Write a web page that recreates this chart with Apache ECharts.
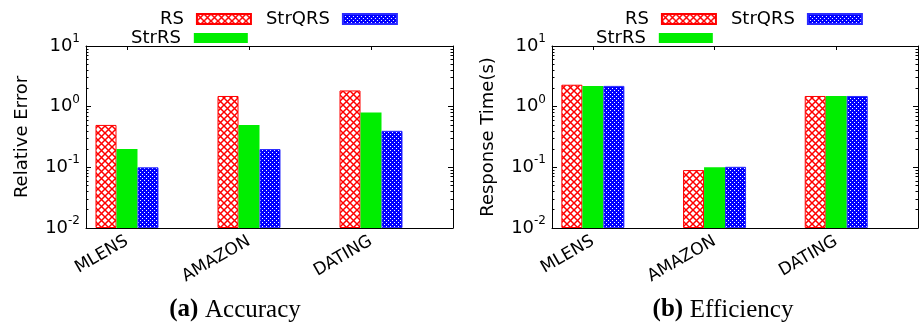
<!DOCTYPE html>
<html>
<head>
<meta charset="utf-8">
<script src="https://cdn.jsdelivr.net/npm/echarts@6/dist/echarts.min.js"></script>
<style>
  html, body { margin: 0; padding: 0; background: #fff; }
  #chart { width: 920px; height: 332px; }
</style>
</head>
<body>
<div id="chart"></div>
<script>
// data
const categories = ["MLENS", "AMAZON", "DATING"];
const seriesNames = ["RS", "StrRS", "StrQRS"];
// (a) relative error
const errRS = [0.5, 1.5, 1.85];
const errStrRS = [0.2, 0.5, 0.8];
const errStrQRS = [0.1, 0.2, 0.4];
// (b) response time in seconds
const timeRS = [2.3, 0.09, 1.5];
const timeStrRS = [2.2, 0.1, 1.5];
const timeStrQRS = [2.2, 0.102, 1.5];
// log axis ticks
const yTicks = [0.01, 0.1, 1, 10];

const FONT = "DejaVu Sans";
const LOG_MIN = 0.01;
// bars on an ECharts log axis grow from 1, so plot decades above the axis bottom
// on a value axis instead: 0 = 10^-2, 3 = 10^1
const toAxis = (v) => Math.log10(v / LOG_MIN);
const xTickPos = categories.map((c, i) => i);
const majorPos = yTicks.map(toAxis);
const minorPos = [];
yTicks.slice(0, -1).forEach((d) => {
  for (let k = 2; k <= 9; k++) minorPos.push(toAxis(d * k));
});

// fill patterns, gnuplot style
function hatchPattern() {
  const c = document.createElement("canvas");
  c.width = c.height = 7;
  const g = c.getContext("2d");
  g.fillStyle = "#fff";
  g.fillRect(0, 0, 7, 7);
  g.strokeStyle = "#ff0000";
  g.lineWidth = 1.5;
  g.beginPath();
  g.moveTo(0, 0); g.lineTo(7, 7);
  g.moveTo(7, 0); g.lineTo(0, 7);
  g.stroke();
  return c;
}
function dotPattern() {
  const c = document.createElement("canvas");
  c.width = c.height = 4;
  const g = c.getContext("2d");
  g.fillStyle = "#0000ff";
  g.fillRect(0, 0, 4, 4);
  g.fillStyle = "#fff";
  g.fillRect(0, 0, 1, 1);
  g.fillRect(2, 2, 1, 1);
  return c;
}

const barStyles = [
  { color: { image: hatchPattern(), repeat: "repeat" }, borderColor: "#ff0000", borderWidth: 1 },
  { color: "#00ee00", borderWidth: 0 },
  { color: { image: dotPattern(), repeat: "repeat" }, borderColor: "#2a2aff", borderWidth: 1 },
];

const grids = [
  { left: 86, top: 46, width: 367, height: 182 },
  { left: 552, top: 46, width: 366, height: 182 },
];
const yNames = ["Relative Error", "Response Time(s)"];
const panelData = [
  [errRS, errStrRS, errStrQRS],
  [timeRS, timeStrRS, timeStrQRS],
];

const black = { color: "#000", width: 1 };

function logLabel(v) {
  const e = Math.round(v + Math.log10(LOG_MIN));
  return "{b|10}{s|" + e + "}";
}

const xAxis = [];
const yAxis = [];
const series = [];
grids.forEach((gr, g) => {
  ["bottom", "top"].forEach((pos) => {
    xAxis.push({
      type: "value",
      gridIndex: g,
      position: pos,
      min: -0.336,
      max: 2.672,
      splitLine: { show: false },
      axisLine: { show: true, onZero: false, lineStyle: black },
      axisTick: { inside: true, length: 4, customValues: xTickPos, lineStyle: black },
      axisLabel: pos === "bottom"
        ? {
            customValues: xTickPos,
            formatter: (v) => categories[Math.round(v)],
            rotate: 30,
            margin: 12,
            fontSize: 17,
            fontFamily: FONT,
            color: "#000",
          }
        : { show: false },
    });
  });
  // major ticks left/right, then minor ticks left/right
  [["left", true], ["right", true], ["left", false], ["right", false]].forEach(([pos, major]) => {
    yAxis.push({
      type: "value",
      gridIndex: g,
      position: pos,
      min: 0,
      max: 3,
      interval: 1,
      splitLine: { show: false },
      axisLine: { show: major, onZero: false, lineStyle: black },
      axisTick: {
        inside: true,
        length: major ? 5 : 2.5,
        customValues: major ? majorPos : minorPos,
        lineStyle: black,
      },
      axisLabel: major && pos === "left"
        ? {
            customValues: majorPos,
            formatter: logLabel,
            margin: 6,
            color: "#000",
            rich: {
              b: { fontSize: 18, fontFamily: FONT, lineHeight: 26, color: "#000" },
              s: { fontSize: 12, fontFamily: FONT, lineHeight: 20, verticalAlign: "top", color: "#000" },
            },
          }
        : { show: false },
      name: major && pos === "left" ? yNames[g] : "",
      nameLocation: "middle",
      nameGap: 55,
      nameTextStyle: { fontSize: 18, fontFamily: FONT, color: "#000" },
    });
  });
  panelData[g].forEach((vals, i) => {
    series.push({
      name: seriesNames[i],
      type: "bar",
      xAxisIndex: g * 2,
      yAxisIndex: g * 4,
      barWidth: 21,
      barGap: "0%",
      itemStyle: barStyles[i],
      data: vals.map((v, j) => [j, toAxis(v)]),
      animation: false,
    });
  });
});

const legendBase = {
  orient: "horizontal",
  align: "right",
  icon: "rect",
  itemWidth: 54,
  itemHeight: 10,
  itemGap: 14,
  selectedMode: false,
  textStyle: { fontSize: 18, fontFamily: FONT, color: "#000", padding: [0, 8, 0, 0] },
};

const chart = echarts.init(document.getElementById("chart"));
chart.setOption({
  animation: false,
  grid: grids,
  xAxis,
  yAxis,
  series,
  legend: [
    Object.assign({}, legendBase, { data: ["RS", "StrQRS"], left: 155, top: 5 }),
    Object.assign({}, legendBase, { data: ["StrRS"], left: 126, top: 24 }),
    Object.assign({}, legendBase, { data: ["RS", "StrQRS"], left: 620, top: 5 }),
    Object.assign({}, legendBase, { data: ["StrRS"], left: 591, top: 24 }),
  ],
  graphic: [
    { label: "(a)", name: "Accuracy", x: 235 },
    { label: "(b)", name: "Efficiency", x: 723 },
  ].map((c) => ({
    type: "text",
    x: c.x,
    y: 310,
    style: {
      text: "{b|" + c.label + "}  {n|" + c.name + "}",
      align: "center",
      verticalAlign: "middle",
      rich: {
        b: { fontSize: 25, fontWeight: "bold", fontFamily: "Liberation Serif", fill: "#000", color: "#000" },
        n: { fontSize: 25, fontFamily: "Liberation Serif", fill: "#000", color: "#000" },
      },
    },
  })),
});
</script>
</body>
</html>
